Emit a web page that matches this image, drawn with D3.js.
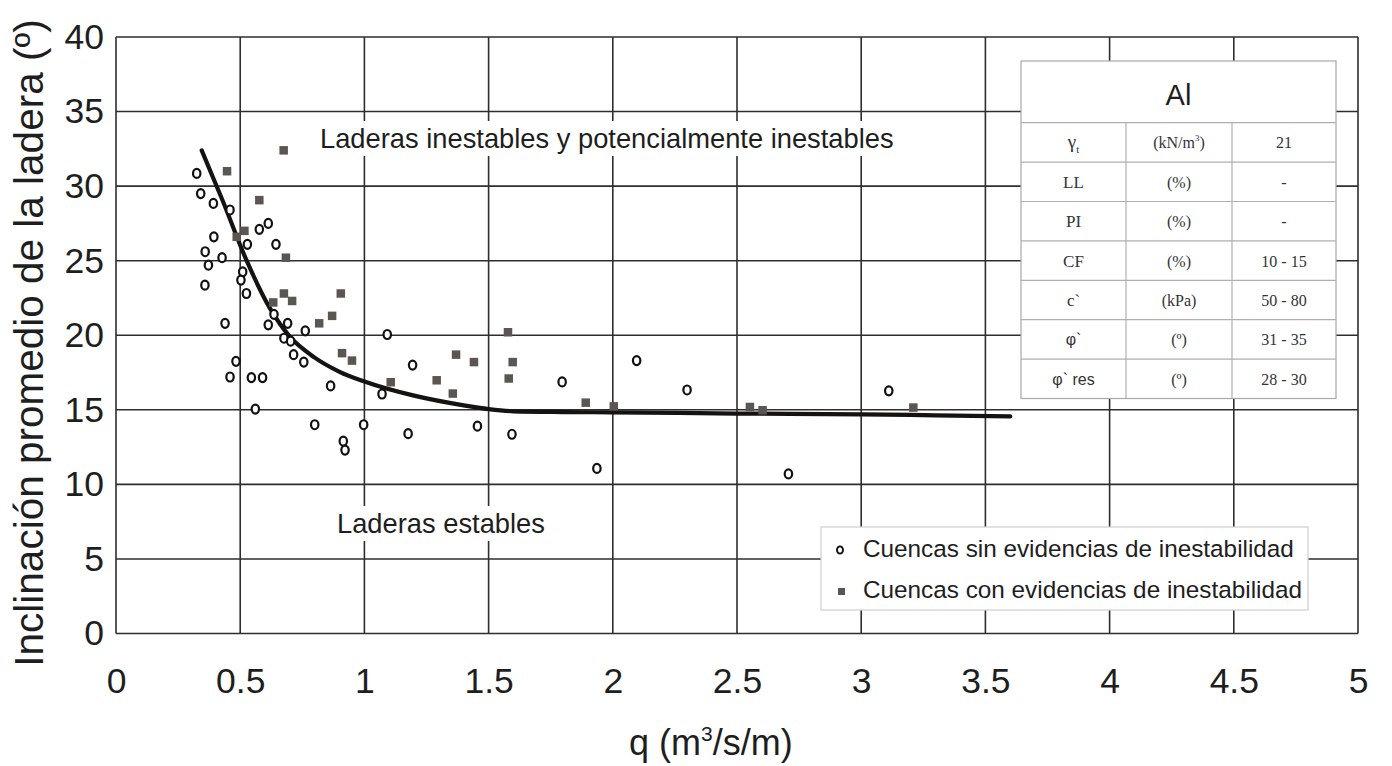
<!DOCTYPE html>
<html>
<head>
<meta charset="utf-8">
<script src="https://cdn.jsdelivr.net/npm/d3@7"></script>
<style>
  html, body { margin: 0; padding: 0; background: #fff; }
  svg { display: block; }
  .sans { font-family: "Liberation Sans", Arial, sans-serif; }
  .serif { font-family: "Liberation Serif", "Times New Roman", serif; }
</style>
</head>
<body>
<svg id="chart" width="1392" height="766"></svg>
<script>
// Axis ticks
const xTicks = [0, 0.5, 1, 1.5, 2, 2.5, 3, 3.5, 4, 4.5, 5];
const yTicks = [0, 5, 10, 15, 20, 25, 30, 35, 40];

// Basins without evidence of instability (q, slope)
const sinQ =     [0.325, 0.341, 0.392, 0.459, 0.613, 0.577, 0.394, 0.529, 0.644, 0.359, 0.427, 0.372, 0.51, 0.503, 0.358, 0.525,
                  0.439, 0.613, 0.636, 0.691, 0.762, 0.676, 0.703, 0.483, 0.715, 0.756, 0.459, 0.545, 0.59, 0.864, 0.561,
                  0.8, 0.997, 0.915, 0.922, 1.092, 1.194, 1.071, 1.176, 1.455, 1.594, 1.796, 2.096, 2.299, 1.936, 2.707, 3.111];
const sinSlope = [30.85, 29.5, 28.84, 28.4, 27.5, 27.1, 26.6, 26.1, 26.1, 25.6, 25.2, 24.7, 24.25, 23.7, 23.36, 22.8,
                  20.8, 20.7, 21.4, 20.8, 20.3, 19.8, 19.6, 18.25, 18.7, 18.2, 17.2, 17.16, 17.16, 16.6, 15.05,
                  14.0, 14.0, 12.9, 12.3, 20.05, 18.0, 16.06, 13.4, 13.9, 13.36, 16.87, 18.3, 16.33, 11.07, 10.7, 16.27];

// Basins with evidence of instability (q, slope)
const conQ =     [0.675, 0.447, 0.577, 0.517, 0.486, 0.684, 0.633, 0.676, 0.709, 0.905, 0.818, 0.87, 0.91, 0.95,
                  1.578, 1.369, 1.441, 1.597, 1.581, 1.291, 1.106, 1.356, 1.891, 2.004, 2.552, 2.603, 3.21];
const conSlope = [32.4, 31.0, 29.06, 27.0, 26.6, 25.2, 22.2, 22.8, 22.3, 22.8, 20.8, 21.3, 18.8, 18.3,
                  20.2, 18.7, 18.2, 18.2, 17.1, 16.98, 16.85, 16.09, 15.48, 15.23, 15.19, 14.97, 15.15];

// Threshold curve separating stable from unstable slopes
const curveQ =     [0.345, 0.43, 0.526, 0.62, 0.7, 0.8, 0.9, 1.0, 1.2, 1.4, 1.5, 1.6, 1.8, 2.0, 2.5, 3.0, 3.3, 3.6];
const curveSlope = [32.4, 29.0, 25.0, 21.8, 19.9, 18.5, 17.55, 16.9, 15.95, 15.3, 15.05, 14.9, 14.85, 14.83, 14.75, 14.7, 14.63, 14.56];

// Material parameters table
const tableTitle = "Al";
const tableParams = ["γ", "LL", "PI", "CF", "c`", "φ`", "φ` res"];
const tableUnits = ["(kN/m³)", "(%)", "(%)", "(%)", "(kPa)", "(º)", "(º)"];
const tableValues = ["21", "-", "-", "10 - 15", "50 - 80", "31 - 35", "28 - 30"];

const legendLabels = ["Cuencas sin evidencias de inestabilidad", "Cuencas con evidencias de inestabilidad"];

const svg = d3.select("#chart");
const m = { left: 116, right: 1358, top: 37, bottom: 633.5 };
const x = d3.scaleLinear().domain([0, 5]).range([m.left, m.right]);
const y = d3.scaleLinear().domain([0, 40]).range([m.bottom, m.top]);

const gridColor = "#2e2e2e";

// Grid
const grid = svg.append("g");
grid.selectAll("line.v").data(xTicks).join("line")
  .attr("x1", d => x(d)).attr("x2", d => x(d))
  .attr("y1", m.top).attr("y2", m.bottom)
  .attr("stroke", gridColor).attr("stroke-width", 1.6);
grid.selectAll("line.h").data(yTicks).join("line")
  .attr("y1", d => y(d)).attr("y2", d => y(d))
  .attr("x1", m.left).attr("x2", m.right)
  .attr("stroke", gridColor).attr("stroke-width", 1.6);

// Axes (labels only)
const fmt = d3.format("~g");
const xAxis = svg.append("g").attr("transform", `translate(0,${m.bottom})`)
  .call(d3.axisBottom(x).tickValues(xTicks).tickFormat(fmt).tickSize(0).tickPadding(34));
const yAxis = svg.append("g").attr("transform", `translate(${m.left},0)`)
  .call(d3.axisLeft(y).tickValues(yTicks).tickFormat(fmt).tickSize(0).tickPadding(12));
[xAxis, yAxis].forEach(a => {
  a.select(".domain").remove();
  a.selectAll("text").attr("font-size", 35.5).attr("fill", "#1e1e1e")
    .style("font-family", "'Liberation Sans', Arial, sans-serif");
});

// Region labels with white backing
function boxedLabel(txt, left, baseline, size) {
  const g = svg.append("g");
  const bg = g.append("rect").attr("fill", "#fff");
  const t = g.append("text").attr("class", "sans").attr("x", left).attr("y", baseline)
    .attr("text-anchor", "start").attr("font-size", size).attr("fill", "#1e1e1e").text(txt);
  const bb = t.node().getBBox();
  bg.attr("x", bb.x - 8).attr("y", bb.y - 2).attr("width", bb.width + 16).attr("height", bb.height + 4);
}
boxedLabel("Laderas inestables y potencialmente inestables", 320, 148, 27.3);
boxedLabel("Laderas estables", 337, 533, 27.3);

// Threshold curve
const line = d3.line().x(d => x(d[0])).y(d => y(d[1])).curve(d3.curveMonotoneX);
svg.append("path").datum(d3.zip(curveQ, curveSlope))
  .attr("d", line).attr("fill", "none").attr("stroke", "#161210")
  .attr("stroke-width", 4.2).attr("stroke-linecap", "round").attr("stroke-linejoin", "round");

// Points: open circles (no evidence) and filled squares (evidence)
svg.append("g").selectAll("ellipse").data(d3.zip(sinQ, sinSlope)).join("ellipse")
  .attr("cx", d => x(d[0])).attr("cy", d => y(d[1]))
  .attr("rx", 3.7).attr("ry", 4.5)
  .attr("fill", "#fff").attr("stroke", "#111").attr("stroke-width", 2.2);
const sq = 8.5;
svg.append("g").selectAll("rect").data(d3.zip(conQ, conSlope)).join("rect")
  .attr("x", d => x(d[0]) - sq / 2).attr("y", d => y(d[1]) - sq / 2)
  .attr("width", sq).attr("height", sq).attr("fill", "#5b5652");

// Parameters table
const tb = { x: 1021, y: 61, w: 315, head: 61.7, row: 39.4, cols: [1021, 1126, 1232, 1336] };
const tg = svg.append("g");
const tH = tb.head + tb.row * tableParams.length;
tg.append("rect").attr("x", tb.x).attr("y", tb.y).attr("width", tb.w).attr("height", tH)
  .attr("fill", "#fff").attr("stroke", "#a8a8a8").attr("stroke-width", 1.2);
tg.append("text").attr("class", "sans").attr("x", tb.x + tb.w / 2).attr("y", tb.y + 44)
  .attr("text-anchor", "middle").attr("font-size", 29).attr("fill", "#1e1e1e").text(tableTitle);
tableParams.forEach((p, i) => {
  const top = tb.y + tb.head + i * tb.row;
  tg.append("line").attr("x1", tb.x).attr("x2", tb.x + tb.w).attr("y1", top).attr("y2", top)
    .attr("stroke", "#b0b0b0").attr("stroke-width", 1.2);
  const base = top + tb.row / 2 + 6;
  const cxs = [0, 1, 2].map(c => (tb.cols[c] + tb.cols[c + 1]) / 2);
  const t0 = tg.append("text").attr("x", cxs[0]).attr("y", base).attr("text-anchor", "middle")
    .attr("font-size", 17).attr("fill", "#333");
  if (p.startsWith("φ")) {
    t0.attr("class", "sans").attr("font-size", 16).text(p);
  } else if (p === "γ") {
    t0.attr("class", "serif").attr("font-size", 19);
    t0.append("tspan").text("γ");
    t0.append("tspan").attr("font-size", 11).attr("dy", 5).text("t");
  } else {
    t0.attr("class", "serif").text(p);
  }
  const t1 = tg.append("text").attr("class", "serif").attr("x", cxs[1]).attr("y", base)
    .attr("text-anchor", "middle").attr("font-size", 16).attr("fill", "#333");
  const u = tableUnits[i];
  if (u.includes("³")) {
    t1.append("tspan").text("(kN/m");
    t1.append("tspan").attr("font-size", 9).attr("dy", -7).text("3");
    t1.append("tspan").attr("dy", 7).text(")");
  } else {
    t1.text(u);
  }
  tg.append("text").attr("class", "serif").attr("x", cxs[2]).attr("y", base)
    .attr("text-anchor", "middle").attr("font-size", 16).attr("fill", "#333").text(tableValues[i]);
});
[1, 2].forEach(c => {
  tg.append("line").attr("x1", tb.cols[c]).attr("x2", tb.cols[c])
    .attr("y1", tb.y + tb.head).attr("y2", tb.y + tH)
    .attr("stroke", "#b0b0b0").attr("stroke-width", 1.2);
});

// Legend
const lg = svg.append("g");
lg.append("rect").attr("x", 821).attr("y", 527).attr("width", 487).attr("height", 83)
  .attr("fill", "#fff").attr("stroke", "#cfcfcf").attr("stroke-width", 1.2);
lg.append("ellipse").attr("cx", 840).attr("cy", 550).attr("rx", 3).attr("ry", 3.6)
  .attr("fill", "#fff").attr("stroke", "#111").attr("stroke-width", 1.9);
lg.append("rect").attr("x", 838).attr("y", 588).attr("width", 7).attr("height", 7).attr("fill", "#5b5652");
legendLabels.forEach((t, i) => {
  lg.append("text").attr("class", "sans").attr("x", 863).attr("y", 557 + i * 41)
    .attr("font-size", 24.3).attr("fill", "#1e1e1e").text(t);
});

// Axis titles
const xt = svg.append("text").attr("class", "sans").attr("x", (x(2) + x(2.5)) / 2 + 36).attr("y", 755)
  .attr("text-anchor", "middle").attr("font-size", 36).attr("fill", "#1e1e1e");
xt.append("tspan").text("q (m");
xt.append("tspan").attr("font-size", 21).attr("dy", -14).text("3");
xt.append("tspan").attr("dy", 14).text("/s/m)");

svg.append("text").attr("class", "sans")
  .attr("transform", `translate(43,343) rotate(-90)`)
  .attr("text-anchor", "middle").attr("font-size", 40.5).attr("fill", "#1e1e1e")
  .text("Inclinación promedio de la ladera (º)");
</script>
</body>
</html>
